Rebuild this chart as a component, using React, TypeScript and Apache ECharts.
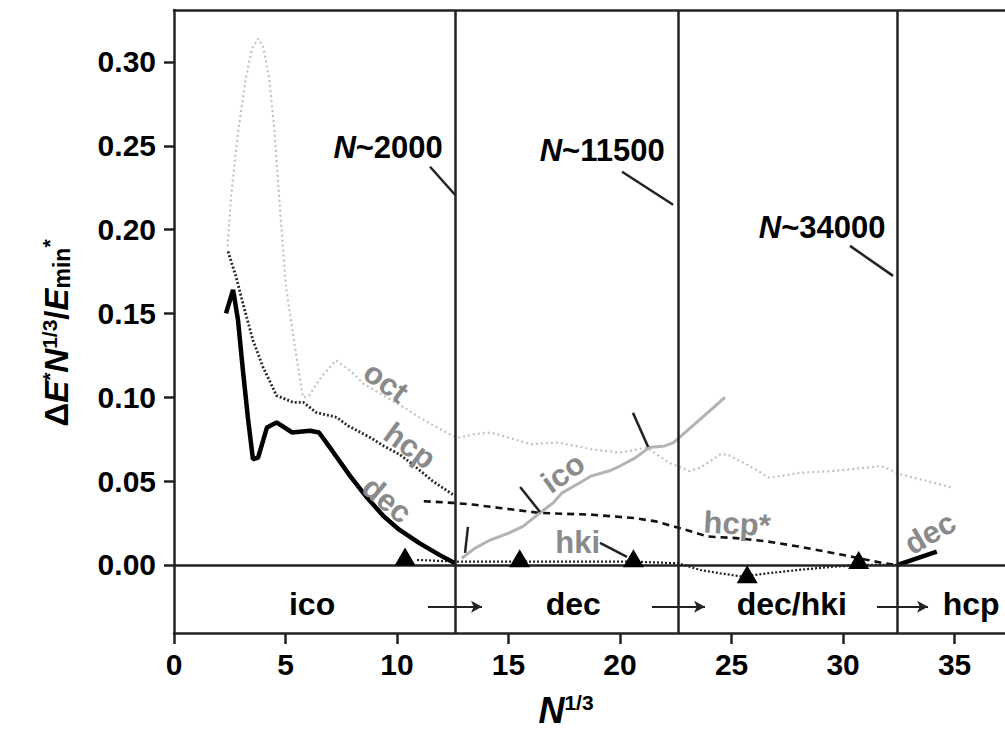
import React, { useEffect, useRef } from 'react';
import * as echarts from 'echarts';

// ---- data (x = N^1/3, y = ΔE*N^1/3/Emin*) ----
const octX = [2.4, 2.56, 2.87, 3.23, 3.5, 3.77, 4.0, 4.26, 4.5, 4.71, 5.02, 5.47, 5.78, 6.05, 6.6, 7.26, 7.9, 8.5, 9.4, 10.3, 11.0, 11.8, 12.5, 12.8, 13.5, 14.2, 15.0, 16.0, 17.2, 18.0, 18.7, 20.0, 21.2, 22.2, 23.1, 23.6, 24.5, 24.8, 25.8, 26.7, 28.1, 29.5, 30.3, 31.7, 32.6, 33.8, 34.9];
const octY = [0.19, 0.22, 0.258, 0.291, 0.308, 0.314, 0.309, 0.291, 0.26, 0.22, 0.166, 0.126, 0.1, 0.101, 0.112, 0.122, 0.116, 0.108, 0.101, 0.094, 0.088, 0.082, 0.077, 0.076, 0.078, 0.079, 0.076, 0.072, 0.073, 0.071, 0.069, 0.067, 0.07, 0.061, 0.056, 0.058, 0.066, 0.066, 0.059, 0.052, 0.055, 0.056, 0.057, 0.059, 0.054, 0.05, 0.046];

const hcpX = [2.42, 2.78, 3.09, 3.54, 3.99, 4.6, 5.34, 5.8, 6.37, 7.3, 7.8, 8.8, 9.4, 10.1, 10.6, 11.6, 12.5];
const hcpY = [0.187, 0.172, 0.156, 0.134, 0.118, 0.101, 0.097, 0.097, 0.091, 0.088, 0.083, 0.076, 0.071, 0.066, 0.061, 0.05, 0.042];

const decX = [2.33, 2.65, 2.87, 3.09, 3.32, 3.54, 3.77, 4.17, 4.6, 5.3, 6.1, 6.5, 7.1, 7.9, 8.6, 9.4, 10.1, 11.0, 11.9, 12.6];
const decY = [0.15, 0.164, 0.146, 0.116, 0.087, 0.063, 0.064, 0.082, 0.085, 0.079, 0.08, 0.079, 0.068, 0.053, 0.041, 0.029, 0.021, 0.013, 0.006, 0.001];

const decRightX = [32.45, 34.2];
const decRightY = [0.0, 0.008];

const icoX = [12.9, 13.5, 14.2, 15.0, 15.65, 16.4, 17.0, 17.4, 18.2, 18.7, 19.5, 20.0, 20.7, 21.3, 22.0, 22.4, 23.0, 23.6, 24.2, 24.7];
const icoY = [0.004, 0.01, 0.015, 0.019, 0.023, 0.031, 0.037, 0.043, 0.049, 0.053, 0.056, 0.059, 0.064, 0.07, 0.071, 0.073, 0.08, 0.087, 0.094, 0.1];

const hcpStarX = [11.2, 12.5, 13.4, 14.6, 16.4, 18.7, 20.6, 21.6, 22.4, 23.2, 23.9, 25.2, 26.6, 28.0, 29.6, 31.1, 31.8, 32.4];
const hcpStarY = [0.038, 0.037, 0.036, 0.034, 0.031, 0.03, 0.028, 0.026, 0.023, 0.02, 0.017, 0.016, 0.014, 0.011, 0.007, 0.003, 0.001, 0.0];

const hkiX = [10.9, 12.6, 15.0, 18.0, 20.6, 22.6, 23.6, 24.5, 25.5, 26.6, 28.0, 29.6, 31.0, 32.4];
const hkiY = [0.003, 0.002, 0.002, 0.002, 0.002, 0.001, -0.003, -0.005, -0.007, -0.005, -0.003, -0.001, 0.0, 0.0];

const triX = [10.36, 15.5, 20.6, 25.7, 30.7];
const triY = [0.005, 0.004, 0.004, -0.0055, 0.003];

const boundaryX = [12.6, 22.6, 32.45];
const boundaryLabels = ['2000', '11500', '34000'];

const xTicks = [0, 5, 10, 15, 20, 25, 30, 35];
const yTicks = [0, 0.05, 0.1, 0.15, 0.2, 0.25, 0.3];

const phaseLabels = ['ico', 'dec', 'dec/hki', 'hcp'];
const phaseX = [6.19, 17.9, 27.7, 35.74];

const zip = (xs: number[], ys: number[]) => xs.map((x, i) => [x, ys[i]]);

export default function App() {
  const ref = useRef<HTMLDivElement>(null);
  useEffect(() => {
    const chart = echarts.init(ref.current!, null, { renderer: 'svg' });
    const FONT = '"Liberation Sans", Arial, Helvetica, sans-serif';
    const INK = '#000000';
    const GRAY = '#8a8a8a';
    const XMAX = 37.26;
    const YMIN = -0.0406;
    const YMAX = 0.331;

    const txt = (x: number, y: number, text: string, rotate: number, color: string, fontSize: number, rich?: any) => ({
      value: [x, y],
      label: {
        show: true,
        position: 'inside',
        formatter: text,
        rotate,
        color,
        opacity: 1,
        fontSize,
        fontWeight: 'bold',
        fontFamily: FONT,
        align: 'center',
        verticalAlign: 'middle',
        rich,
      },
    });

    const nRich = (size: number) => ({
      i: { fontStyle: 'italic', fontWeight: 'bold', fontSize: size, fontFamily: FONT, color: INK },
      r: { fontWeight: 'bold', fontSize: size, fontFamily: FONT, color: INK },
    });

    const labelData = [
      txt(9.5, 0.109, 'oct', -36, GRAY, 31),
      txt(10.58, 0.071, 'hcp', -36, GRAY, 31),
      txt(9.55, 0.0388, 'dec', -40, GRAY, 31),
      txt(17.44, 0.0549, 'ico', 36, GRAY, 31),
      txt(18.1, 0.0131, 'hki', 0, GRAY, 31),
      txt(25.25, 0.0245, 'hcp*', -3, GRAY, 31),
      txt(33.9, 0.019, 'dec', 30, GRAY, 31),
      txt(9.6, 0.2488, '{i|N}{r|~' + boundaryLabels[0] + '}', 0, INK, 31, nRich(31)),
      txt(19.2, 0.247, '{i|N}{r|~' + boundaryLabels[1] + '}', 0, INK, 31, nRich(31)),
      txt(29.06, 0.201, '{i|N}{r|~' + boundaryLabels[2] + '}', 0, INK, 31, nRich(31)),
      ...phaseLabels.map((p, i) => txt(phaseX[i], -0.0235, p, 0, INK, 32)),
    ];

    const seg = (x1: number, y1: number, x2: number, y2: number) => [{ coord: [x1, y1] }, { coord: [x2, y2] }];

    const option: any = {
      animation: false,
      backgroundColor: '#ffffff',
      grid: { left: 174, top: 10, right: 0, bottom: 100, show: false },
      xAxis: [
        {
          type: 'value', min: 0, max: XMAX,
          axisLine: { show: true, onZero: false, lineStyle: { color: '#222', width: 2.5 } },
          axisTick: { show: true, customValues: xTicks, length: 11, lineStyle: { color: '#222', width: 2.5 } },
          axisLabel: { customValues: xTicks, fontSize: 30, fontWeight: 'bold', fontFamily: FONT, color: INK, margin: 16 },
          splitLine: { show: false },
        },
        {
          type: 'value', min: 0, max: XMAX, position: 'top',
          axisLine: { show: true, onZero: false, lineStyle: { color: '#222', width: 2.5 } },
          axisTick: { show: false }, axisLabel: { show: false }, splitLine: { show: false },
        },
      ],
      yAxis: {
        type: 'value', min: YMIN, max: YMAX,
        axisLine: { show: true, onZero: false, lineStyle: { color: '#222', width: 2.5 } },
        axisTick: { show: true, customValues: yTicks, length: 10, lineStyle: { color: '#222', width: 2.5 } },
        axisLabel: { customValues: yTicks, fontSize: 30, fontWeight: 'bold', fontFamily: FONT, color: INK, margin: 18, formatter: (v: number) => v.toFixed(2) },
        splitLine: { show: false },
      },
      series: [
        { type: 'line', name: 'oct', data: zip(octX, octY), showSymbol: false, symbol: 'none', lineStyle: { color: '#c2c2c2', width: 2.2, type: [2, 3] }, z: 2 },
        { type: 'line', name: 'hki', data: zip(hkiX, hkiY), showSymbol: false, symbol: 'none', lineStyle: { color: '#222', width: 2.2, type: [2, 2] }, z: 3 },
        { type: 'line', name: 'hcp*', data: zip(hcpStarX, hcpStarY), showSymbol: false, symbol: 'none', lineStyle: { color: '#111', width: 2.6, type: [7, 5] }, z: 3 },
        { type: 'line', name: 'hcp', data: zip(hcpX, hcpY), showSymbol: false, symbol: 'none', lineStyle: { color: '#2a2a2a', width: 2.8, type: [2, 2] }, z: 3 },
        { type: 'line', name: 'ico', data: zip(icoX, icoY), showSymbol: false, symbol: 'none', lineStyle: { color: '#b3b3b3', width: 3 }, z: 3 },
        { type: 'line', name: 'dec', data: zip(decX, decY), showSymbol: false, symbol: 'none', lineStyle: { color: '#000', width: 4.5 }, z: 4 },
        { type: 'line', name: 'dec2', data: zip(decRightX, decRightY), showSymbol: false, symbol: 'none', lineStyle: { color: '#000', width: 4.5 }, z: 4 },
        { type: 'scatter', name: 'min', data: zip(triX, triY), symbol: 'triangle', symbolSize: [21, 18], itemStyle: { color: '#000', opacity: 1 }, z: 5 },
        {
          type: 'line', name: 'frame', data: [], z: 6,
          markLine: {
            silent: true, symbol: 'none', label: { show: false },
            lineStyle: { color: '#222', width: 2.5, type: 'solid' },
            data: [
              ...boundaryX.map((x) => ({ xAxis: x })),
              { yAxis: 0 },
              seg(11.48, 0.2375, 12.6, 0.2208),
              seg(20.09, 0.2345, 22.38, 0.2148),
              seg(30.31, 0.1903, 32.24, 0.1724),
              seg(13.18, 0.0227, 13.05, 0.0072),
              seg(15.52, 0.0465, 16.41, 0.0316),
              seg(20.58, 0.0907, 21.26, 0.0704),
              seg(19.1, 0.0131, 20.31, 0.0048),
            ],
          },
        },
        {
          type: 'line', name: 'arrows', data: [], z: 6,
          markLine: {
            silent: true, symbol: ['none', 'arrow'], symbolSize: [9, 11], label: { show: false },
            lineStyle: { color: '#222', width: 2, type: 'solid' },
            data: [
              seg(11.39, -0.025, 13.81, -0.025),
              seg(21.43, -0.025, 23.81, -0.025),
              seg(31.52, -0.025, 33.81, -0.025),
            ],
          },
        },
        { type: 'scatter', name: 'labels', data: labelData, symbolSize: 0, silent: true, itemStyle: { opacity: 1 }, z: 7 },
      ],
      graphic: [
        {
          type: 'text', x: 56, y: 333, rotation: Math.PI / 2,
          style: {
            text: '{n|Δ}{i|E}{s|*}{i|N}{s|1/3}{n|/}{i|E}{b|min}{s|*}',
            align: 'center', verticalAlign: 'middle',
            rich: {
              n: { fontSize: 33, fontWeight: 'bold', fontFamily: FONT, fill: INK },
              i: { fontSize: 33, fontWeight: 'bold', fontStyle: 'italic', fontFamily: FONT, fill: INK },
              s: { fontSize: 21, fontWeight: 'bold', fontFamily: FONT, fill: INK, verticalAlign: 'top', padding: [0, 0, 14, 0] },
              b: { fontSize: 23, fontWeight: 'bold', fontFamily: FONT, fill: INK, verticalAlign: 'bottom', padding: [12, 0, 0, 0] },
            },
          },
        },
        {
          type: 'text', x: 566, y: 710,
          style: {
            text: '{i|N}{s|1/3}',
            align: 'center', verticalAlign: 'middle',
            rich: {
              i: { fontSize: 36, fontWeight: 'bold', fontStyle: 'italic', fontFamily: FONT, fill: INK },
              s: { fontSize: 21, fontWeight: 'bold', fontFamily: FONT, fill: INK, verticalAlign: 'top', padding: [0, 0, 16, 0] },
            },
          },
        },
      ],
    };
    chart.setOption(option);
    return () => chart.dispose();
  }, []);
  return <div ref={ref} style={{ position: 'absolute', left: 0, top: 0, width: 1005, height: 733 }} />;
}
